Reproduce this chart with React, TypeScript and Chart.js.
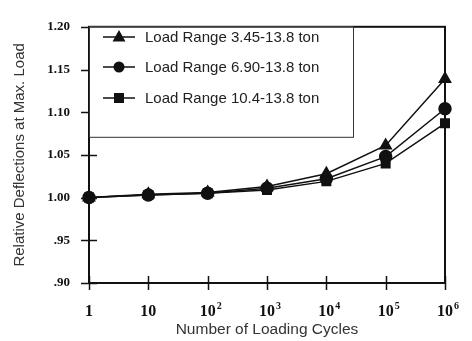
import React, { useEffect, useRef } from "react";
import { Chart, registerables } from "chart.js";

Chart.register(...registerables);

const cycles = [1, 10, 100, 1000, 10000, 100000, 1000000];
const xTickBase = ["1", "10", "10", "10", "10", "10", "10"];
const xTickExponents = ["", "", "2", "3", "4", "5", "6"];
const yTickValues = [0.9, 0.95, 1.0, 1.05, 1.1, 1.15, 1.2];
const yTickLabels = [".90", ".95", "1.00", "1.05", "1.10", "1.15", "1.20"];

const seriesNames = [
  "Load Range 3.45-13.8 ton",
  "Load Range 6.90-13.8 ton",
  "Load Range 10.4-13.8 ton",
];
const range345 = [1.0, 1.004, 1.006, 1.013, 1.028, 1.061, 1.139];
const range690 = [1.0, 1.003, 1.005, 1.011, 1.022, 1.048, 1.104];
const range104 = [1.0, 1.003, 1.005, 1.009, 1.019, 1.04, 1.087];
const pointStyles = ["triangle", "circle", "rect"];

const SERIF = "'Liberation Serif', 'Times New Roman', serif";
const SANS = "'Liberation Sans', Arial, sans-serif";

const framePlugin = {
  id: "framePlugin",
  afterDraw(chart: any) {
    const { ctx, chartArea } = chart;
    const { left, right, top, bottom } = chartArea;
    const xs = chart.scales.x;
    const ys = chart.scales.y;
    ctx.save();
    ctx.strokeStyle = "#111";
    ctx.lineWidth = 2;
    ctx.strokeRect(left, top, right - left, bottom - top);
    ctx.lineWidth = 1.5;
    ctx.beginPath();
    yTickValues.forEach((v) => {
      const y = Math.round(ys.getPixelForValue(v)) + 0.5;
      ctx.moveTo(left - 8, y);
      ctx.lineTo(left + 8, y);
    });
    cycles.forEach((c) => {
      const x = Math.round(xs.getPixelForValue(c)) + 0.5;
      ctx.moveTo(x, bottom - 7);
      ctx.lineTo(x, bottom + 7);
    });
    ctx.stroke();

    // exponents of the x tick labels
    ctx.fillStyle = "#111";
    ctx.textAlign = "left";
    ctx.textBaseline = "top";
    cycles.forEach((c, i) => {
      const exp = xTickExponents[i];
      if (!exp) return;
      ctx.font = `bold 16px ${SERIF}`;
      const w = ctx.measureText(xTickBase[i]).width;
      const x = xs.getPixelForValue(c) + w / 2 + 1;
      ctx.font = `bold 10px ${SERIF}`;
      ctx.fillText(exp, x, bottom + 18);
    });

    // legend box
    const bx = left;
    const by = top;
    const bw = 264;
    const bh = 110;
    ctx.fillStyle = "#fff";
    ctx.fillRect(bx, by, bw, bh);
    ctx.lineWidth = 1;
    ctx.strokeStyle = "#333";
    ctx.strokeRect(bx + 0.5, by + 0.5, bw, bh);
    const rows = [37, 67, 98];
    ctx.font = `15px ${SANS}`;
    ctx.textBaseline = "middle";
    ctx.textAlign = "left";
    rows.forEach((ry, i) => {
      ctx.strokeStyle = "#111";
      ctx.lineWidth = 1.5;
      ctx.beginPath();
      ctx.moveTo(103, ry);
      ctx.lineTo(135, ry);
      ctx.stroke();
      ctx.fillStyle = "#111";
      const cx = 119;
      ctx.beginPath();
      if (i === 0) {
        ctx.moveTo(cx, ry - 7);
        ctx.lineTo(cx + 6.5, ry + 4.5);
        ctx.lineTo(cx - 6.5, ry + 4.5);
        ctx.closePath();
      } else if (i === 1) {
        ctx.arc(cx, ry, 5.5, 0, Math.PI * 2);
      } else {
        ctx.rect(cx - 5, ry - 5, 10, 10);
      }
      ctx.fill();
      ctx.fillStyle = "#222";
      ctx.fillText(seriesNames[i], 145, ry + 1);
    });
    ctx.restore();
  },
};

export default function App() {
  const canvasRef = useRef<HTMLCanvasElement | null>(null);

  useEffect(() => {
    const canvas = canvasRef.current;
    if (!canvas) return;
    const allSeries = [range345, range690, range104];
    const chart = new Chart(canvas, {
      type: "line",
      data: {
        datasets: allSeries.map((vals, i) => ({
          label: seriesNames[i],
          data: cycles.map((c, j) => ({ x: c, y: vals[j] })),
          borderColor: "#111",
          backgroundColor: "#111",
          borderWidth: 1.5,
          pointStyle: pointStyles[i] as any,
          pointRadius: i === 0 ? 6.5 : 6,
          pointBackgroundColor: "#111",
          pointBorderColor: "#111",
          tension: 0,
          clip: false as any,
        })),
      },
      options: {
        animation: false,
        responsive: false,
        maintainAspectRatio: false,
        layout: { padding: { left: 0, top: 12, right: 23, bottom: 0 } },
        plugins: {
          legend: { display: false },
          tooltip: { enabled: false },
        },
        scales: {
          x: {
            type: "logarithmic",
            min: 1,
            max: 1000000,
            afterBuildTicks: (scale: any) => {
              scale.ticks = cycles.map((v) => ({ value: v }));
            },
            afterFit: (scale: any) => {
              scale.height = 58;
            },
            grid: { display: false, drawTicks: false },
            border: { display: false },
            ticks: {
              autoSkip: false,
              maxRotation: 0,
              padding: 19,
              color: "#111",
              font: { family: SERIF, size: 16, weight: "bold" },
              callback: (_v: any, index: number) => xTickBase[index],
            },
            title: {
              display: true,
              text: "Number of Loading Cycles",
              color: "#333",
              padding: { top: 0, bottom: 2 },
              font: { family: SANS, size: 15.5 },
            },
          },
          y: {
            type: "linear",
            min: 0.9,
            max: 1.2,
            afterBuildTicks: (scale: any) => {
              scale.ticks = yTickValues.map((v) => ({ value: v }));
            },
            afterFit: (scale: any) => {
              scale.width = 89;
            },
            grid: { display: false, drawTicks: false },
            border: { display: false },
            ticks: {
              padding: 19,
              color: "#111",
              font: { family: SERIF, size: 13, weight: "bold" },
              callback: (_v: any, index: number) => yTickLabels[index],
            },
            title: {
              display: true,
              text: "Relative Deflections at Max. Load",
              color: "#333",
              padding: { top: 11, bottom: 0 },
              font: { family: SANS, size: 15 },
            },
          },
        },
      },
      plugins: [framePlugin],
    });
    return () => chart.destroy();
  }, []);

  return (
    <div style={{ position: "fixed", left: 0, top: 0, width: 472, height: 341, background: "#fff" }}>
      <canvas ref={canvasRef} width={472} height={341} style={{ display: "block" }} />
    </div>
  );
}
